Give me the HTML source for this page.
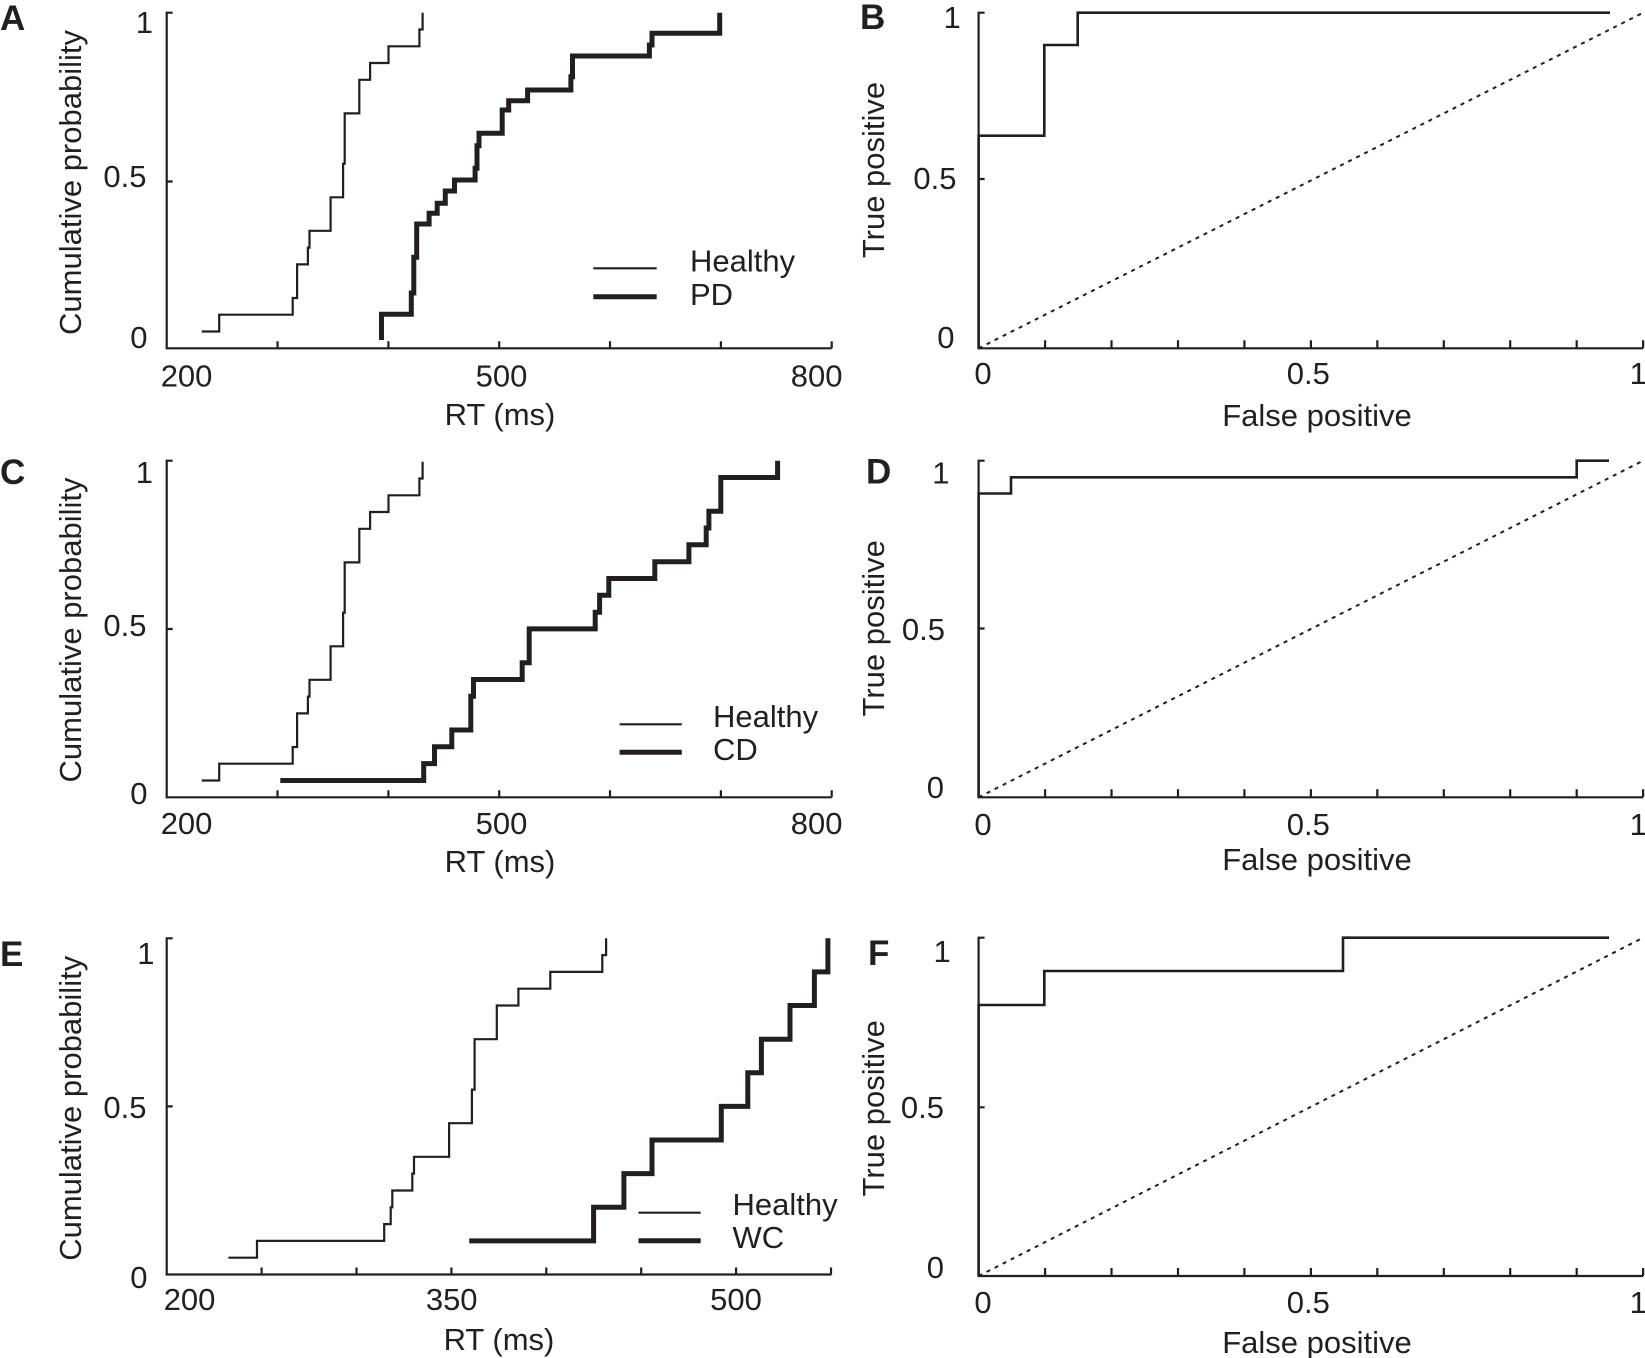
<!DOCTYPE html>
<html>
<head>
<meta charset="utf-8">
<style>
html,body{margin:0;padding:0;background:#fff;}
svg{display:block;}
text{font-family:"Liberation Sans",Arial,sans-serif;fill:#231f20;font-size:31px;}
.l{font-weight:bold;font-size:35px;}
.a{stroke:#231f20;stroke-width:2.2;fill:none;}
.h{stroke:#231f20;stroke-width:2.2;fill:none;}
.k{stroke:#231f20;stroke-width:5;fill:none;}
.r{stroke:#231f20;stroke-width:2.6;fill:none;}
.d{stroke:#231f20;stroke-width:2;stroke-dasharray:4 5;fill:none;}
</style>
</head>
<body>
<svg width="1645" height="1358" viewBox="0 0 1645 1358" xmlns="http://www.w3.org/2000/svg">

<!-- ================= PANEL A ================= -->
<text class="l" x="0" y="30">A</text>
<path class="a" d="M172.7,12.7 H166.7 V348.3 H831.7"/>
<path class="a" d="M166.7,181.5 H172.7 M277.5,348.3 v-7 M388.4,348.3 v-7 M499.2,348.3 v-7 M610,348.3 v-7 M720.9,348.3 v-7 M831.7,348.3 v-7"/>
<text x="153" y="33" text-anchor="end">1</text>
<text x="146.5" y="187" text-anchor="end">0.5</text>
<text x="147.5" y="348" text-anchor="end">0</text>
<text x="160.7" y="386.5">200</text>
<text x="501.5" y="386.5" text-anchor="middle">500</text>
<text x="842.5" y="386.5" text-anchor="end">800</text>
<text x="500" y="425" text-anchor="middle">RT (ms)</text>
<text transform="translate(81,182.5) rotate(-90)" text-anchor="middle" font-size="30">Cumulative probability</text>
<path class="h" d="M201.8,331.5 H219.2 V314.7 H292.7 V298 H297.1 V264.4 H307.9 V247.6 H309.5 V230.8 H330.6 V197.3 H343.1 V163.7 H344.7 V113.4 H359.3 V79.8 H370.1 V63 H388.5 V46.3 H419.4 V29.5 H422.6 V12.7"/>
<path class="k" d="M381.5,340 V314.3 H411.3 V293 H413.8 V257.3 H416.7 V224 H429.1 V213.3 H437.2 V203.3 H445.3 V191 H454.5 V180 H475.1 V168.3 H477 V145.7 H479 V133.3 H502.2 V110 H508.7 V100.7 H527.6 V90 H570.9 V76.7 H572.5 V56 H649.4 V45 H652 V33.3 H719.7 V12.7"/>
<path class="h" d="M593.3,268.3 H656.7"/>
<path class="k" d="M593.3,296.7 H656.7"/>
<text x="690" y="271.7">Healthy</text>
<text x="690" y="305">PD</text>

<!-- ================= PANEL B ================= -->
<text class="l" x="860" y="29">B</text>
<path class="a" d="M984.6,12.7 H978.6 V348.3 H1643.1"/>
<path class="a" d="M978.6,179 H984.6 M1045.1,348.3 v-8 M1111.5,348.3 v-8 M1178,348.3 v-8 M1244.4,348.3 v-8 M1310.9,348.3 v-8 M1377.3,348.3 v-8 M1443.8,348.3 v-8 M1510.2,348.3 v-8 M1576.7,348.3 v-8 M1643.1,348.3 v-8"/>
<path class="d" d="M978.6,348.3 L1643.1,12.7"/>
<path class="r" d="M978.6,348.3 V135.7 H1044.3 V45 H1077.7 V12.7 H1610"/>
<text x="960.7" y="28" text-anchor="end">1</text>
<text x="956.5" y="189" text-anchor="end">0.5</text>
<text x="954.5" y="348" text-anchor="end">0</text>
<text x="983" y="384" text-anchor="middle">0</text>
<text x="1308.3" y="384" text-anchor="middle">0.5</text>
<text x="1629.6" y="384">1</text>
<text x="1317" y="426" text-anchor="middle">False positive</text>
<text transform="translate(884,170) rotate(-90)" text-anchor="middle">True positive</text>

<!-- ================= PANEL C ================= -->
<text class="l" x="0" y="484">C</text>
<path class="a" d="M172.7,460.7 H166.7 V797.3 H831.7"/>
<path class="a" d="M166.7,629 H172.7 M277.5,797.3 v-7 M388.4,797.3 v-7 M499.2,797.3 v-7 M610,797.3 v-7 M720.9,797.3 v-7 M831.7,797.3 v-7"/>
<text x="153" y="483" text-anchor="end">1</text>
<text x="146.5" y="636" text-anchor="end">0.5</text>
<text x="147.5" y="804" text-anchor="end">0</text>
<text x="160.7" y="834">200</text>
<text x="501.5" y="834" text-anchor="middle">500</text>
<text x="842.5" y="834" text-anchor="end">800</text>
<text x="500" y="872" text-anchor="middle">RT (ms)</text>
<text transform="translate(81,630) rotate(-90)" text-anchor="middle" font-size="30">Cumulative probability</text>
<path class="h" transform="translate(0,449)" d="M201.8,331.5 H219.2 V314.7 H292.7 V298 H297.1 V264.4 H307.9 V247.6 H309.5 V230.8 H330.6 V197.3 H343.1 V163.7 H344.7 V113.4 H359.3 V79.8 H370.1 V63 H388.5 V46.3 H419.4 V29.5 H422.6 V12.7"/>
<path class="k" d="M280.3,780.5 H423.7 V763.6 H434.5 V746.8 H451.8 V730 H470.8 V696.3 H473.5 V679.5 H522.2 V662.7 H529.2 V628.9 H595.2 V612.2 H599.6 V595.3 H608.8 V578.5 H654.8 V561.7 H688.9 V544.8 H706.2 V528 H708.9 V511.2 H720.8 V477.5 H777.6 V460.7"/>
<path class="h" d="M619.6,724.3 H681.8"/>
<path class="k" d="M619.6,752.3 H681.8"/>
<text x="713" y="727">Healthy</text>
<text x="713" y="760">CD</text>

<!-- ================= PANEL D ================= -->
<text class="l" x="866" y="483.3">D</text>
<path class="a" d="M984.6,460.7 H978.6 V797.3 H1643.1"/>
<path class="a" d="M978.6,628.5 H984.6 M1045.1,797.3 v-8 M1111.5,797.3 v-8 M1178,797.3 v-8 M1244.4,797.3 v-8 M1310.9,797.3 v-8 M1377.3,797.3 v-8 M1443.8,797.3 v-8 M1510.2,797.3 v-8 M1576.7,797.3 v-8 M1643.1,797.3 v-8"/>
<path class="d" d="M978.6,797.3 L1643.1,460.7"/>
<path class="r" d="M978.6,797.3 V493.5 H1011 V477.3 H1576.7 V460.7 H1609"/>
<text x="949.5" y="483.3" text-anchor="end">1</text>
<text x="945" y="640" text-anchor="end">0.5</text>
<text x="944" y="798" text-anchor="end">0</text>
<text x="983" y="835" text-anchor="middle">0</text>
<text x="1308.3" y="835" text-anchor="middle">0.5</text>
<text x="1629.6" y="835">1</text>
<text x="1317" y="870" text-anchor="middle">False positive</text>
<text transform="translate(884,628.3) rotate(-90)" text-anchor="middle">True positive</text>

<!-- ================= PANEL E ================= -->
<text class="l" x="0" y="966">E</text>
<path class="a" d="M172.7,938.3 H166.7 V1274.5 H831.4"/>
<path class="a" d="M166.7,1106.4 H172.7 M261.6,1274.5 v-7 M356.5,1274.5 v-7 M451.4,1274.5 v-7 M546.3,1274.5 v-7 M641.2,1274.5 v-7 M736.1,1274.5 v-7 M831,1274.5 v-7"/>
<text x="154.5" y="964" text-anchor="end">1</text>
<text x="146.5" y="1118" text-anchor="end">0.5</text>
<text x="147.5" y="1288" text-anchor="end">0</text>
<text x="163.7" y="1310">200</text>
<text x="451.7" y="1310" text-anchor="middle">350</text>
<text x="736" y="1310" text-anchor="middle">500</text>
<text x="499" y="1350" text-anchor="middle">RT (ms)</text>
<text transform="translate(81,1108.3) rotate(-90)" text-anchor="middle" font-size="30">Cumulative probability</text>
<path class="h" d="M228.4,1257.7 H257 V1240.9 H384.2 V1224.1 H390.7 V1207.3 H392.3 V1190.5 H412.3 V1173.6 H414 V1156.8 H449.1 V1123.2 H471.9 V1089.6 H474.6 V1039.2 H496.8 V1005.5 H518.4 V988.7 H550.3 V971.9 H602.3 V955.1 H606.1 V938.3"/>
<path class="k" d="M469.2,1240.9 H593.6 V1207.3 H623.9 V1173.6 H652 V1140 H721.3 V1106.4 H747.8 V1072.8 H761.4 V1039.2 H790 V1005.5 H814.4 V971.9 H827.9 V938.3"/>
<path class="h" d="M638.5,1212.7 H700.7"/>
<path class="k" d="M638.5,1240.7 H700.7"/>
<text x="732.5" y="1215">Healthy</text>
<text x="732.5" y="1248">WC</text>

<!-- ================= PANEL F ================= -->
<text class="l" x="868" y="965">F</text>
<path class="a" d="M984.6,937.7 H978.6 V1276 H1643.1"/>
<path class="a" d="M978.6,1107.3 H984.6 M1045.1,1276 v-8 M1111.5,1276 v-8 M1178,1276 v-8 M1244.4,1276 v-8 M1310.9,1276 v-8 M1377.3,1276 v-8 M1443.8,1276 v-8 M1510.2,1276 v-8 M1576.7,1276 v-8 M1643.1,1276 v-8"/>
<path class="d" d="M978.6,1276 L1643.1,937.7"/>
<path class="r" d="M978.6,1276 V1005 H1044.3 V971 H1343 V937.7 H1609"/>
<text x="950.7" y="962" text-anchor="end">1</text>
<text x="944" y="1118" text-anchor="end">0.5</text>
<text x="944" y="1278" text-anchor="end">0</text>
<text x="983" y="1313" text-anchor="middle">0</text>
<text x="1308.3" y="1313" text-anchor="middle">0.5</text>
<text x="1629.6" y="1313">1</text>
<text x="1317" y="1353" text-anchor="middle">False positive</text>
<text transform="translate(884,1108.3) rotate(-90)" text-anchor="middle">True positive</text>

</svg>
</body>
</html>
